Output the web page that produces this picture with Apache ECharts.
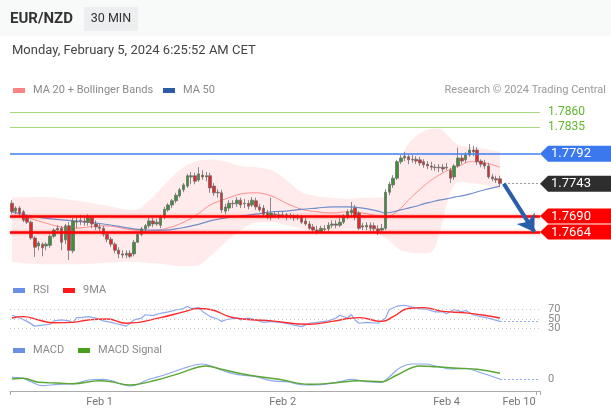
<!DOCTYPE html>
<html><head><meta charset="utf-8">
<script src="https://cdn.jsdelivr.net/npm/echarts@6/dist/echarts.min.js"></script>
<style>html,body{margin:0;padding:0;background:#fff}#c{width:611px;height:413px}</style>
</head><body><div id="c"></div>
<script>
// ---------------- DATA ----------------
const opens = [
1.7711,1.7698,1.7703,1.7697,1.7687,1.7680,1.7654,1.7641,1.7644,1.7641,
1.7642,1.7657,1.7667,1.7670,1.7651,1.7674,1.7633,1.7680,1.7682,1.7682,
1.7680,1.7687,1.7677,1.7672,1.7670,1.7660,1.7652,1.7644,1.7634,1.7628,
1.7626,1.7629,1.7628,1.7647,1.7660,1.7669,1.7674,1.7682,1.7677,1.7675,
1.7688,1.7700,1.7708,1.7715,1.7723,1.7733,1.7739,1.7754,1.7756,1.7749,
1.7757,1.7754,1.7756,1.7739,1.7728,1.7728,1.7698,1.7703,1.7711,1.7710,
1.7716,1.7710,1.7711,1.7708,1.7715,1.7705,1.7703,1.7695,1.7688,1.7693,
1.7692,1.7690,1.7692,1.7690,1.7690,1.7687,1.7688,1.7682,1.7677,1.7672,
1.7667,1.7664,1.7669,1.7669,1.7675,1.7677,1.7675,1.7680,1.7688,1.7695,
1.7703,1.7695,1.7674,1.7672,1.7675,1.7674,1.7669,1.7667,1.7670,1.7729,
1.7741,1.7752,1.7779,1.7785,1.7787,1.7782,1.7783,1.7782,1.7779,1.7775,
1.7772,1.7770,1.7769,1.7770,1.7769,1.7765,1.7754,1.7772,1.7785,1.7782,
1.7790,1.7798,1.7798,1.7780,1.7777,1.7772,1.7754,1.7751,1.7751];
const closes = [
1.7697,1.7703,1.7695,1.7683,1.7680,1.7654,1.7639,1.7646,1.7638,1.7644,
1.7657,1.7667,1.7670,1.7647,1.7674,1.7634,1.7682,1.7682,1.7683,1.7680,
1.7687,1.7677,1.7672,1.7670,1.7660,1.7652,1.7644,1.7634,1.7628,1.7626,
1.7629,1.7624,1.7647,1.7660,1.7669,1.7674,1.7682,1.7677,1.7680,1.7688,
1.7701,1.7708,1.7715,1.7724,1.7733,1.7741,1.7756,1.7756,1.7747,1.7759,
1.7754,1.7756,1.7736,1.7728,1.7729,1.7700,1.7705,1.7711,1.7710,1.7716,
1.7708,1.7711,1.7706,1.7716,1.7705,1.7700,1.7693,1.7688,1.7695,1.7692,
1.7690,1.7692,1.7688,1.7691,1.7687,1.7689,1.7680,1.7677,1.7670,1.7667,
1.7664,1.7670,1.7668,1.7675,1.7677,1.7675,1.7680,1.7690,1.7697,1.7700,
1.7690,1.7670,1.7672,1.7675,1.7670,1.7669,1.7665,1.7670,1.7729,1.7742,
1.7752,1.7779,1.7785,1.7788,1.7782,1.7783,1.7780,1.7777,1.7774,1.7772,
1.7770,1.7769,1.7770,1.7767,1.7770,1.7752,1.7772,1.7785,1.7780,1.7790,
1.7798,1.7795,1.7779,1.7775,1.7772,1.7754,1.7751,1.7749,1.7743];
const lows = [
1.7693,1.7693,1.7690,1.7680,1.7677,1.7651,1.7623,1.7634,1.7624,1.7634,
1.7638,1.7654,1.7664,1.7634,1.7644,1.7618,1.7629,1.7670,1.7675,1.7674,
1.7674,1.7670,1.7667,1.7665,1.7656,1.7647,1.7639,1.7629,1.7621,1.7621,
1.7621,1.7621,1.7624,1.7646,1.7657,1.7664,1.7670,1.7672,1.7674,1.7670,
1.7685,1.7697,1.7703,1.7711,1.7720,1.7729,1.7736,1.7742,1.7742,1.7746,
1.7749,1.7747,1.7728,1.7723,1.7720,1.7695,1.7693,1.7698,1.7703,1.7705,
1.7703,1.7703,1.7701,1.7705,1.7700,1.7697,1.7688,1.7685,1.7683,1.7687,
1.7685,1.7687,1.7683,1.7685,1.7682,1.7683,1.7677,1.7674,1.7667,1.7664,
1.7660,1.7662,1.7664,1.7665,1.7670,1.7670,1.7672,1.7677,1.7685,1.7688,
1.7683,1.7667,1.7667,1.7667,1.7665,1.7664,1.7659,1.7662,1.7667,1.7724,
1.7736,1.7749,1.7775,1.7780,1.7775,1.7777,1.7775,1.7772,1.7769,1.7767,
1.7765,1.7764,1.7762,1.7762,1.7765,1.7744,1.7749,1.7769,1.7775,1.7777,
1.7787,1.7788,1.7774,1.7770,1.7767,1.7751,1.7747,1.7744,1.7738];
const highs = [
1.7716,1.7706,1.7706,1.7700,1.7692,1.7683,1.7657,1.7649,1.7647,1.7647,
1.7660,1.7670,1.7675,1.7674,1.7677,1.7680,1.7687,1.7688,1.7692,1.7688,
1.7693,1.7690,1.7683,1.7677,1.7674,1.7664,1.7656,1.7647,1.7639,1.7634,
1.7634,1.7634,1.7651,1.7664,1.7672,1.7677,1.7687,1.7687,1.7685,1.7692,
1.7705,1.7711,1.7718,1.7728,1.7736,1.7744,1.7759,1.7762,1.7761,1.7770,
1.7765,1.7762,1.7761,1.7744,1.7734,1.7733,1.7710,1.7716,1.7716,1.7721,
1.7720,1.7718,1.7716,1.7721,1.7720,1.7710,1.7708,1.7700,1.7720,1.7698,
1.7697,1.7697,1.7695,1.7695,1.7693,1.7693,1.7692,1.7687,1.7682,1.7677,
1.7674,1.7674,1.7675,1.7680,1.7683,1.7683,1.7687,1.7693,1.7701,1.7713,
1.7708,1.7698,1.7679,1.7680,1.7680,1.7679,1.7675,1.7677,1.7734,1.7746,
1.7757,1.7782,1.7790,1.7795,1.7790,1.7790,1.7788,1.7787,1.7783,1.7780,
1.7779,1.7775,1.7775,1.7775,1.7777,1.7769,1.7775,1.7802,1.7790,1.7795,
1.7808,1.7805,1.7803,1.7783,1.7782,1.7777,1.7759,1.7756,1.7756];

// indicator samples (candle index, value)
const bandIdx = [0,8,16,24,32,36,40,44,48,52,56,60,64,68,72,76,80,84,88,92,96,98,100,102,104,106,108,110,112,114,116,118,120,124,128];
const bbUpper = [1.7720,1.7721,1.7716,1.7708,1.7700,1.7716,1.7741,1.7765,1.7779,1.7782,1.7779,1.7772,1.7770,1.7765,1.7749,1.7729,1.7723,1.7720,1.7718,1.7720,1.7720,1.7723,1.7741,1.7785,1.7808,1.7821,1.7829,1.7833,1.7833,1.7824,1.7811,1.7805,1.7803,1.7800,1.7795];
const bbLower = [1.7615,1.7611,1.7611,1.7613,1.7615,1.7613,1.7611,1.7608,1.7608,1.7624,1.7647,1.7667,1.7679,1.7680,1.7675,1.7670,1.7667,1.7667,1.7669,1.7667,1.7660,1.7654,1.7644,1.7634,1.7631,1.7629,1.7629,1.7631,1.7659,1.7708,1.7741,1.7746,1.7744,1.7741,1.7733];
const ma20 = [1.7697,1.7680,1.7670,1.7674,1.7667,1.7665,1.7669,1.7677,1.7690,1.7708,1.7718,1.7726,1.7728,1.7723,1.7711,1.7701,1.7697,1.7695,1.7697,1.7695,1.7690,1.7687,1.7693,1.7703,1.7716,1.7728,1.7739,1.7749,1.7757,1.7764,1.7769,1.7774,1.7779,1.7777,1.7770];
const ma50 = [1.7697,1.7687,1.7682,1.7677,1.7669,1.7667,1.7667,1.7670,1.7675,1.7682,1.7687,1.7690,1.7693,1.7697,1.7698,1.7701,1.7703,1.7705,1.7705,1.7703,1.7698,1.7695,1.7697,1.7700,1.7703,1.7706,1.7710,1.7713,1.7716,1.7718,1.7721,1.7723,1.7726,1.7733,1.7739];

const rsiIdx = [0,2,4,6,8,10,11,13,15,16,17,18,20,22,24,26,28,30,32,34,35,37,39,41,43,45,46,47,49,50,52,54,55,56,57,59,60,62,64,66,68,70,72,74,76,78,80,83,85,86,88,89,90,91,93,96,98,99,101,103,105,107,109,111,113,114,116,118,119,121,123,125,128];
const rsiVals = [58,52,45,35,37,39,46,48,46,42,53,53,55,52,46,43,39,35,48,52,59,57,62,65,69,72,77,72,74,66,55,50,45,48,50,52,48,52,48,43,45,43,41,37,34,41,43,46,52,58,52,59,48,41,43,41,52,70,77,79,75,72,70,65,65,61,70,65,68,59,55,52,45];
const rsiMaIdx = [0,3,7,11,16,20,25,30,39,45,49,52,58,68,78,84,91,97,100,104,108,113,119,123,128];
const rsiMaVals = [52,55,48,42,43,48,50,41,53,65,72,70,53,46,39,45,53,45,55,72,74,66,63,59,52];

const macdIdx = [0,3,5,8,12,16,20,24,26,31,36,40,45,48,50,53,57,60,64,68,72,77,82,86,89,93,97,99,102,105,108,112,115,119,123,128];
const macdVals = [1.7,0.7,-2.7,-6.7,-5.3,-5,-1,-0.3,-1.7,-7,-0.3,4,10.7,14,15,11.7,6.3,4,2.3,-1.7,-2.7,-6,-5.3,-2.7,-0.3,-2.7,-3.3,2.3,11.7,15,15,12.3,10,10.7,6.3,0];
const sigIdx = [0,3,7,12,16,23,26,31,38,44,51,55,62,70,78,85,91,97,101,107,111,117,122,128];
const sigVals = [0,0.7,-3.3,-4,-4.7,-1.7,-2.7,-6,-1,5.7,13,9.7,4,-0.3,-5.3,-3.7,-1.7,-2.7,4,13,12.3,10.7,9.7,5.7];

const resistLevels = [1.7860, 1.7835];
const pivotLevel = 1.7792;
const supportLevels = [1.7690, 1.7664];
const rsiLevels = [30, 50, 70];

const nCats = 139;
const tickIdx = [23, 71, 114, 133];
const tickLabels = ['Feb 1', 'Feb 2', 'Feb 4', 'Feb 10'];

// ---------------- CHART ----------------
const FONT = 'Roboto, "Liberation Sans", Arial, sans-serif';
const chart = echarts.init(document.getElementById('c'), null, {renderer: 'canvas'});
const catData = Array.from({length: nCats}, (_, i) => String(i));
const pairs = (idx, vals) => idx.map((k, j) => [k, vals[j]]);
const last = closes.length - 1;
const lastPrice = closes[last];
const endIdx = nCats - 1;

const candleData = opens.map((o, i) => [o, closes[i], lows[i], highs[i]]);
const bandWidth = bandIdx.map((k, j) => [k, +(bbUpper[j] - bbLower[j]).toFixed(5)]);

function hiddenX(gi) {
  return {type: 'category', gridIndex: gi, data: catData, boundaryGap: true, show: false};
}
const dotted = [1, 3];

const option = {
  animation: false,
  textStyle: {fontFamily: FONT},
  grid: [
    {left: 10, right: 71, top: 100, height: 171},
    {left: 10, right: 71, top: 300, height: 38},
    {left: 10, right: 71, top: 361, height: 30}
  ],
  xAxis: [
    hiddenX(0), hiddenX(1),
    {type: 'category', gridIndex: 2, data: catData, boundaryGap: true,
     axisLine: {show: true, onZero: false, lineStyle: {color: '#aaa'}},
     axisTick: {show: true, interval: (i) => i === 0 || i === nCats - 1, length: 4, lineStyle: {color: '#aaa'}},
     axisLabel: {show: true, interval: (i) => tickIdx.includes(i),
       formatter: (v, i) => { const k = tickIdx.indexOf(i); return k >= 0 ? tickLabels[k] : ''; },
       color: '#777', fontSize: 11, margin: 6, fontFamily: FONT},
     splitLine: {show: false}}
  ],
  yAxis: [
    {type: 'value', gridIndex: 0, min: 1.7600, max: 1.7880, show: false},
    {type: 'value', gridIndex: 1, min: 10, max: 90, interval: 20, position: 'right',
     axisLine: {show: false}, axisTick: {show: false}, splitLine: {show: false},
     axisLabel: {formatter: (v) => rsiLevels.includes(v) ? String(v) : '', color: '#888', fontSize: 11, margin: 8, fontFamily: FONT}},
    {type: 'value', gridIndex: 2, min: -12, max: 18, interval: 6, position: 'right',
     axisLine: {show: false}, axisTick: {show: false}, splitLine: {show: false},
     axisLabel: {formatter: (v) => v === 0 ? '0' : '', color: '#888', fontSize: 11, margin: 8, fontFamily: FONT}}
  ],
  series: [
    {type: 'line', name: 'bbLow', xAxisIndex: 0, yAxisIndex: 0, stack: 'bb', data: pairs(bandIdx, bbLower),
     smooth: 0.4, showSymbol: false, lineStyle: {opacity: 0}, z: 1, silent: true},
    {type: 'line', name: 'bbBand', xAxisIndex: 0, yAxisIndex: 0, stack: 'bb', data: bandWidth,
     smooth: 0.4, showSymbol: false, lineStyle: {opacity: 0}, areaStyle: {color: 'rgba(255,110,110,0.2)'}, z: 1, silent: true},
    {type: 'line', name: 'MA 20', xAxisIndex: 0, yAxisIndex: 0, data: pairs(bandIdx, ma20),
     smooth: 0.4, showSymbol: false, lineStyle: {color: '#ff8c8c', width: 1}, z: 2},
    {type: 'line', name: 'MA 50', xAxisIndex: 0, yAxisIndex: 0, data: pairs(bandIdx, ma50),
     smooth: 0.4, showSymbol: false, lineStyle: {color: '#6f8ecb', width: 1.2}, z: 2},
    {type: 'candlestick', name: 'EUR/NZD', xAxisIndex: 0, yAxisIndex: 0, data: candleData, barWidth: 3, z: 3,
     itemStyle: {color: '#3a9431', color0: '#e82626', borderColor: '#6e6e6e', borderColor0: '#6e6e6e', borderWidth: 0.8}},
    {type: 'line', name: 'levels', xAxisIndex: 0, yAxisIndex: 0, data: [[last, lastPrice]], showSymbol: false,
     lineStyle: {opacity: 0}, z: 4, silent: true,
     markLine: {symbol: 'none', silent: true, animation: false, precision: 4,
       data: [
         ...resistLevels.map(v => ({yAxis: v, lineStyle: {color: '#a8d97c', width: 1, type: 'solid'},
            label: {show: true, position: 'end', formatter: v.toFixed(4), color: '#62b52c', fontSize: 12, distance: 8, fontFamily: FONT}})),
         {yAxis: pivotLevel, lineStyle: {color: '#3f7ef2', width: 1.5, type: 'solid'}, label: {show: false}},
         ...supportLevels.map(v => ({yAxis: v, lineStyle: {color: '#ff0000', width: 2.5, type: 'solid', shadowColor: 'rgba(255,0,0,0.45)', shadowBlur: 3}, label: {show: false}})),
         [{coord: [last, lastPrice], lineStyle: {color: '#999', width: 1, type: [2, 2]}, label: {show: false}}, {coord: [endIdx, lastPrice]}],
         [{coord: [last + 0.5, lastPrice], symbol: 'none', lineStyle: {color: '#2b5ea8', width: 4, type: 'solid'}, label: {show: false}},
          {coord: [endIdx - 1, supportLevels[1]], symbol: 'arrow', symbolSize: 16}]
       ]}},
    {type: 'line', name: 'RSI', xAxisIndex: 1, yAxisIndex: 1, data: pairs(rsiIdx, rsiVals),
     showSymbol: false, lineStyle: {color: '#8ea8ef', width: 1.2}, z: 2,
     markLine: {symbol: 'none', silent: true, animation: false, precision: 2,
       data: [
         ...rsiLevels.map(v => ({yAxis: v, lineStyle: {color: '#c4c4c4', width: 1, type: dotted}, label: {show: false}})),
         [{coord: [last, rsiVals[rsiVals.length - 1]], lineStyle: {color: '#8ea8ef', width: 1, type: [2, 2]}, label: {show: false}},
          {coord: [endIdx, rsiVals[rsiVals.length - 1]]}]
       ]}},
    {type: 'line', name: '9MA', xAxisIndex: 1, yAxisIndex: 1, data: pairs(rsiMaIdx, rsiMaVals),
     smooth: 0.5, showSymbol: false, lineStyle: {color: '#ff2a2a', width: 1.4}, z: 3},
    {type: 'line', name: 'MACD', xAxisIndex: 2, yAxisIndex: 2, data: pairs(macdIdx, macdVals),
     smooth: 0.4, showSymbol: false, lineStyle: {color: '#8ea8ef', width: 1.2}, z: 2,
     markLine: {symbol: 'none', silent: true, animation: false, precision: 2,
       data: [[{coord: [last, macdVals[macdVals.length - 1]], lineStyle: {color: '#8ea8ef', width: 1, type: [2, 2]}, label: {show: false}},
               {coord: [endIdx, macdVals[macdVals.length - 1]]}]]}},
    {type: 'line', name: 'MACD Signal', xAxisIndex: 2, yAxisIndex: 2, data: pairs(sigIdx, sigVals),
     smooth: 0.4, showSymbol: false, lineStyle: {color: '#5aa832', width: 1.4}, z: 3}
  ]
};
chart.setOption(option);

// ---------------- HEADER, LEGENDS, PRICE TAGS ----------------
function legendItem(x, y, color, label) {
  return [
    {type: 'rect', shape: {x: x, y: y - 2, width: 12, height: 5}, style: {fill: color}},
    {type: 'text', style: {x: x + 20, y: y, text: label, fill: '#8a8a8a', font: '11px ' + FONT, verticalAlign: 'middle'}}
  ];
}
function tag(value, color, h) {
  const y = chart.convertToPixel({yAxisIndex: 0}, value);
  const x0 = 540, x1 = 548, x2 = 611, hh = h / 2;
  return [
    {type: 'polygon', z: 100, shape: {points: [[x0, y], [x1, y - hh], [x2, y - hh], [x2, y + hh], [x1, y + hh]]}, style: {fill: color}},
    {type: 'text', z: 101, style: {x: 551, y: y + 0.5, text: value.toFixed(4), fill: '#fff', font: '13px ' + FONT, verticalAlign: 'middle'}}
  ];
}
const graphics = [
  {type: 'rect', z: -10, shape: {x: 0, y: 0, width: 611, height: 36}, style: {fill: '#f8f9f9'}},
  {type: 'text', style: {x: 10, y: 19, text: 'EUR/NZD', fill: '#333', font: 'bold 15px ' + FONT, verticalAlign: 'middle'}},
  {type: 'rect', shape: {x: 84, y: 7, width: 54, height: 24}, style: {fill: '#eceef0'}},
  {type: 'text', style: {x: 111, y: 19, text: '30 MIN', fill: '#333', font: '12.5px ' + FONT, align: 'center', verticalAlign: 'middle'}},
  {type: 'text', style: {x: 12, y: 51, text: 'Monday, February 5, 2024 6:25:52 AM CET', fill: '#444', font: '13px ' + FONT, verticalAlign: 'middle'}},
  ...legendItem(13, 90, '#ff8383', 'MA 20 + Bollinger Bands'),
  ...legendItem(163, 90, '#2d5ca6', 'MA 50'),
  {type: 'text', style: {x: 606, y: 90, text: 'Research \u00a9 2024 Trading Central', fill: '#9a9a9a', font: '11px ' + FONT, align: 'right', verticalAlign: 'middle'}},
  ...legendItem(13, 290, '#6c8fe6', 'RSI'),
  ...legendItem(63, 290, '#ff1a1a', '9MA'),
  ...legendItem(13, 350, '#6c8fe6', 'MACD'),
  ...legendItem(78, 350, '#4a9e1e', 'MACD Signal'),
  ...tag(pivotLevel, '#3b78ee', 16),
  ...tag(lastPrice, '#2e2e2e', 16),
  ...tag(supportLevels[0], '#ff0000', 15),
  ...tag(supportLevels[1], '#ff0000', 15)
];
chart.setOption({graphic: graphics});
</script>
</body></html>
